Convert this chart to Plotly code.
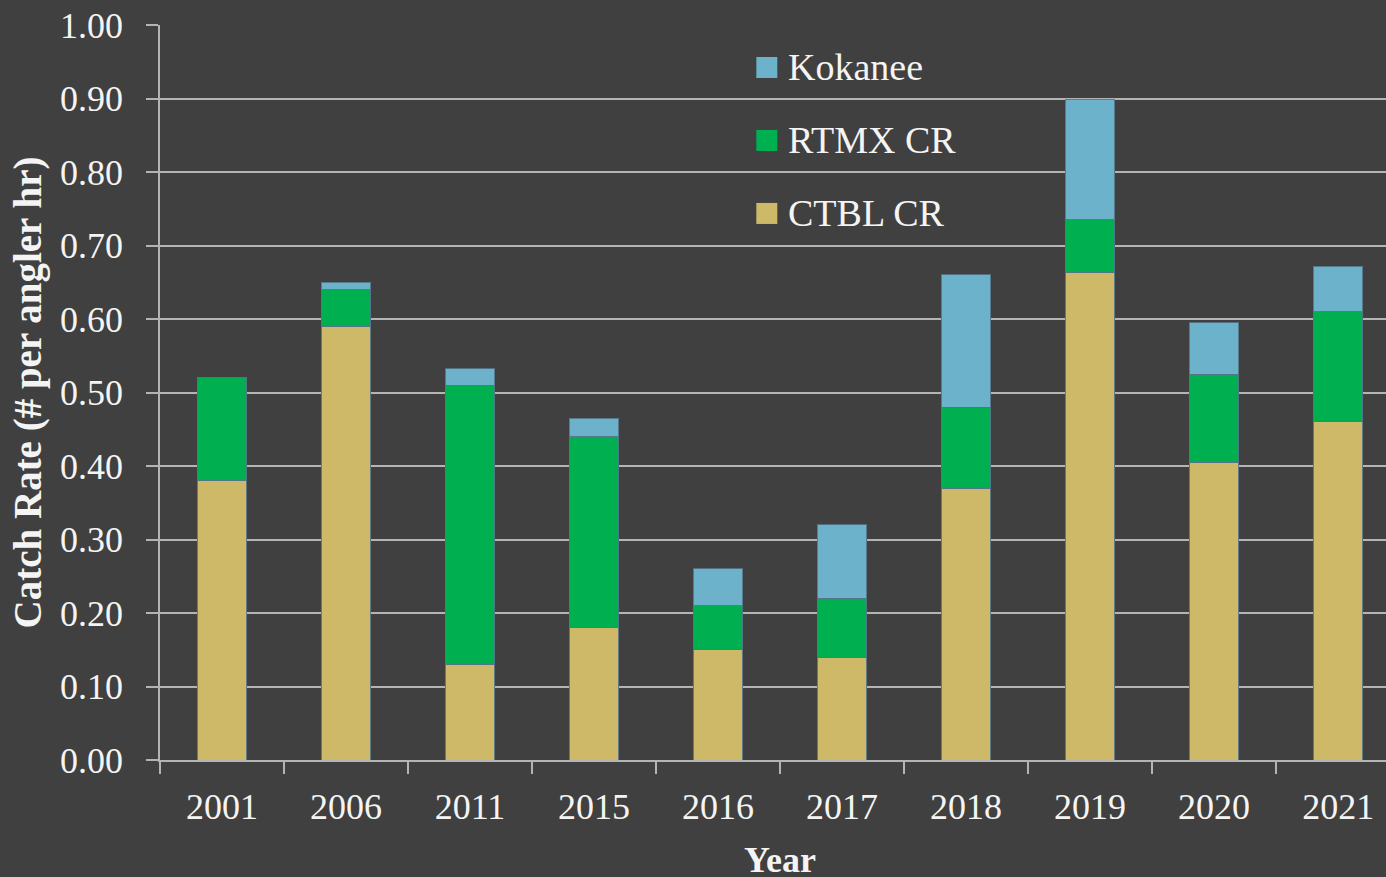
import plotly.graph_objects as go

years = ["2001", "2006", "2011", "2015", "2016", "2017", "2018", "2019", "2020", "2021"]
ctbl = [0.38, 0.59, 0.13, 0.18, 0.15, 0.14, 0.37, 0.663, 0.405, 0.46]
rtmx = [0.14, 0.05, 0.38, 0.26, 0.06, 0.08, 0.11, 0.072, 0.12, 0.15]
kokanee = [0.0, 0.01, 0.022, 0.025, 0.05, 0.10, 0.18, 0.163, 0.07, 0.062]

series_names = ["CTBL CR", "RTMX CR", "Kokanee"]
series_values = [ctbl, rtmx, kokanee]
series_colors = ["#CDB967", "#00B050", "#6BB2CA"]

y_ticks = [0.0, 0.1, 0.2, 0.3, 0.4, 0.5, 0.6, 0.7, 0.8, 0.9, 1.0]

FONT = "Liberation Serif"
BG = "#404040"
GRID = "#B4B4B4"
TXT = "#F4F4F4"

fig = go.Figure()
for name, vals, col in zip(series_names, series_values, series_colors):
    fig.add_trace(go.Bar(
        x=years, y=vals, name=name, width=0.4,
        marker=dict(color=col, line=dict(color="rgba(85,115,135,0.9)", width=1)),
        showlegend=False,
    ))

# legend drawn in paper space (top entry = last series)
leg_x0 = 0.4864
leg_w = 0.0171
leg_top = 0.9565
leg_h = 0.0286
leg_step = 0.0993
for i, (name, col) in enumerate(zip(reversed(series_names), reversed(series_colors))):
    y1 = leg_top - i * leg_step
    y0 = y1 - leg_h
    fig.add_shape(type="rect", xref="paper", yref="paper",
                  x0=leg_x0, x1=leg_x0 + leg_w, y0=y0, y1=y1,
                  fillcolor=col, line=dict(width=0))
    fig.add_annotation(xref="paper", yref="paper", x=leg_x0 + leg_w + 0.007,
                       y=(y0 + y1) / 2, text=name, showarrow=False,
                       xanchor="left", yanchor="middle",
                       font=dict(family=FONT, size=38, color=TXT))

# x-axis title, centred on the full category span
fig.add_annotation(xref="x", yref="paper", x=(len(years) - 1) / 2, y=0,
                   yshift=-100, text="<b>Year</b>", showarrow=False,
                   xanchor="center", yanchor="middle",
                   font=dict(family=FONT, size=36, color=TXT))

fig.update_layout(
    width=1386, height=877,
    barmode="stack",
    paper_bgcolor=BG, plot_bgcolor=BG,
    margin=dict(l=160, r=0, t=25, b=117),
    font=dict(family=FONT, color=TXT),
    showlegend=False,
    bargap=0.6,
)
fig.update_xaxes(
    type="category",
    range=[-0.5, 9.386],
    showline=True, linecolor=GRID, linewidth=1.5,
    ticks="outside", tickson="boundaries", ticklen=12, tickcolor=GRID, tickwidth=1.5,
    showgrid=False,
    tickfont=dict(family=FONT, size=36, color=TXT),
    ticklabelstandoff=14,
    automargin=False,
)
fig.update_yaxes(
    range=[0, 1.0],
    tickvals=y_ticks,
    ticktext=[f"{v:.2f}" for v in y_ticks],
    showline=True, linecolor=GRID, linewidth=1.5,
    ticks="outside", ticklen=12, tickcolor=GRID, tickwidth=1.5,
    showgrid=True, gridcolor=GRID, gridwidth=1.5,
    zeroline=False,
    tickfont=dict(family=FONT, size=36, color=TXT),
    ticklabelstandoff=16,
    title=dict(text="<b>Catch Rate (# per angler hr)</b>", font=dict(family=FONT, size=39, color=TXT), standoff=6),
    automargin=False,
)

fig.write_html("out.html",
               config={"displayModeBar": False},
               post_script="document.body.style.margin='0';document.body.style.background='#404040';")
